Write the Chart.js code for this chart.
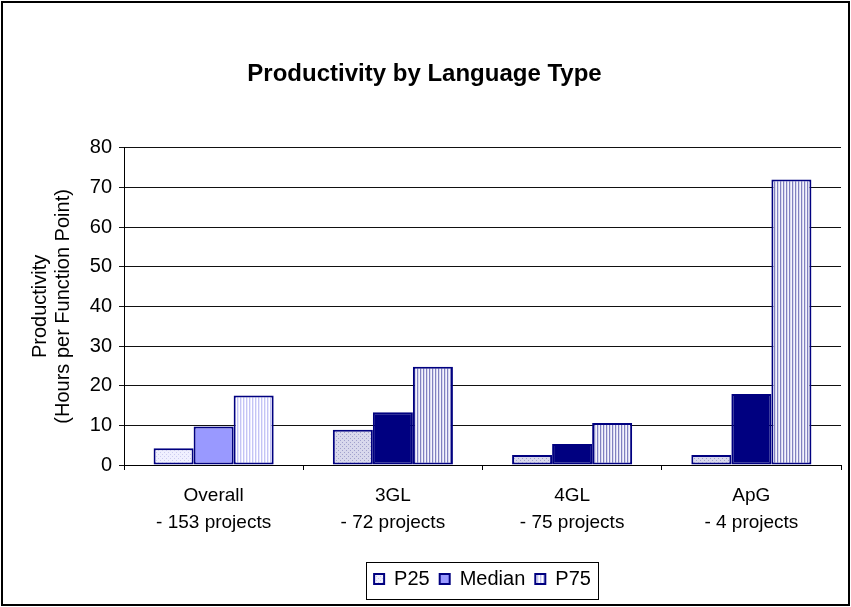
<!DOCTYPE html>
<html>
<head>
<meta charset="utf-8">
<script src="https://cdn.jsdelivr.net/npm/chart.js@4"></script>
<style>
  body { margin: 0; background: #fff; }
  #wrap { width: 851px; height: 607px; position: relative; }
</style>
</head>
<body>
<div id="wrap"><canvas id="my_chart"></canvas></div>
<script>
// chart data
var categories = [['Overall', '- 153 projects'], ['3GL', '- 72 projects'], ['4GL', '- 75 projects'], ['ApG', '- 4 projects']];
var p25Values = [4.2, 8.9, 2.5, 2.5];
var medianValues = [9.7, 13.3, 5.3, 17.9];
var p75Values = [17.5, 24.8, 10.6, 72];
var yTicks = [0, 10, 20, 30, 40, 50, 60, 70, 80];

const FONT = "'Liberation Sans', Arial, sans-serif";
const NAVY = '#000080';

// little tiles for the excel-ish fill patterns
function makePattern(w, h, paint) {
    var c = document.createElement('canvas');
    c.width = w; c.height = h;
    var g = c.getContext('2d');
    paint(g);
    return g.createPattern(c, 'repeat');
}

function dots(base, dot) {
    return makePattern(4, 4, function (g) {
        g.fillStyle = base; g.fillRect(0, 0, 4, 4);
        g.fillStyle = dot; g.fillRect(0, 0, 1, 1); g.fillRect(2, 2, 1, 1);
    });
}

function stripes(line, mid, base) {
    return makePattern(3, 1, function (g) {
        g.fillStyle = line; g.fillRect(0, 0, 1, 1);
        g.fillStyle = mid; g.fillRect(1, 0, 1, 1);
        g.fillStyle = base; g.fillRect(2, 0, 1, 1);
    });
}

var p25Fill = dots('#d8d8ec', '#a0a0cc');
var p25Overall = dots('#f0f0ff', '#ccccf0');
var p75Fill = stripes('#8080c0', '#d8d8f0', '#f4f4fc');
var p75Overall = stripes('#c4c4f4', '#e8e8ff', '#ffffff');

function pick(first, rest) {
    return function (ctx) { return ctx.dataIndex === 0 ? first : rest; };
}

var framePlugin = {
    id: 'frame',
    beforeDraw: function (chart) {
        var ctx = chart.ctx;
        ctx.save();
        ctx.fillStyle = '#fff';
        ctx.fillRect(0, 0, chart.width, chart.height);
        ctx.restore();
    },
    afterDraw: function (chart) {
        var ctx = chart.ctx;
        ctx.save();
        ctx.strokeStyle = '#000';
        ctx.lineWidth = 2;
        ctx.strokeRect(2, 2, 847, 603);
        // box around the legend items
        var boxes = chart.legend.legendHitBoxes;
        if (boxes && boxes.length) {
            var l = Math.min.apply(null, boxes.map(function (b) { return b.left; }));
            var r = Math.max.apply(null, boxes.map(function (b) { return b.left + b.width; }));
            ctx.lineWidth = 1;
            ctx.strokeRect(Math.round(l - 8) + 0.5, 562.5, Math.round(r - l + 15), 37);
        }
        ctx.restore();
    }
};

var ctx = document.getElementById('my_chart').getContext('2d');
let chart = new Chart(ctx, {
    type: 'bar',
    data: {
        labels: categories,
        datasets: [
            {
                label: 'P25',
                data: p25Values,
                backgroundColor: pick(p25Overall, p25Fill),
                borderColor: NAVY,
                borderWidth: 2,
                borderSkipped: false
            },
            {
                label: 'Median',
                data: medianValues,
                backgroundColor: pick('#9999ff', NAVY),
                borderColor: NAVY,
                borderWidth: 2,
                borderSkipped: false
            },
            {
                label: 'P75',
                data: p75Values,
                backgroundColor: pick(p75Overall, p75Fill),
                borderColor: NAVY,
                borderWidth: 2,
                borderSkipped: false
            }
        ]
    },
    options: {
        responsive: true,
        maintainAspectRatio: false,
        animation: false,
        devicePixelRatio: 1,
        layout: { padding: { left: 8, right: 10, top: 0, bottom: 8 } },
        datasets: { bar: { categoryPercentage: 0.67, barPercentage: 1.0 } },
        plugins: {
            title: {
                display: true,
                text: 'Productivity by Language Type',
                color: '#000',
                font: { family: FONT, size: 24, weight: 'bold' },
                padding: { top: 60, bottom: 59 }
            },
            legend: {
                position: 'bottom',
                fullSize: false,
                labels: {
                    color: '#000',
                    font: { family: FONT, size: 20 },
                    boxWidth: 10,
                    boxHeight: 10,
                    padding: 10
                }
            },
            tooltip: { enabled: false }
        },
        scales: {
            x: {
                grid: { offset: true, drawOnChartArea: false, drawTicks: true, tickLength: 5, color: '#000' },
                border: { display: true, color: '#000', width: 1 },
                ticks: { color: '#000', font: { family: FONT, size: 19, lineHeight: 1.38 }, padding: 13, maxRotation: 0 },
                afterFit: function (s) { s.height = 94; }
            },
            y: {
                min: 0,
                max: 80,
                afterBuildTicks: function (s) { s.ticks = yTicks.map(function (v) { return { value: v }; }); },
                grid: { color: '#111', tickLength: 5 },
                border: { display: true, color: '#000', width: 1 },
                ticks: { color: '#000', font: { family: FONT, size: 20 }, padding: 7 },
                title: {
                    display: true,
                    text: ['Productivity', '(Hours per Function Point)'],
                    color: '#000',
                    font: { family: FONT, size: 20, lineHeight: 1.15 },
                    padding: { top: 21, bottom: 0 }
                },
                afterFit: function (s) { s.width = 116; }
            }
        }
    },
    plugins: [framePlugin]
});
</script>
</body>
</html>
